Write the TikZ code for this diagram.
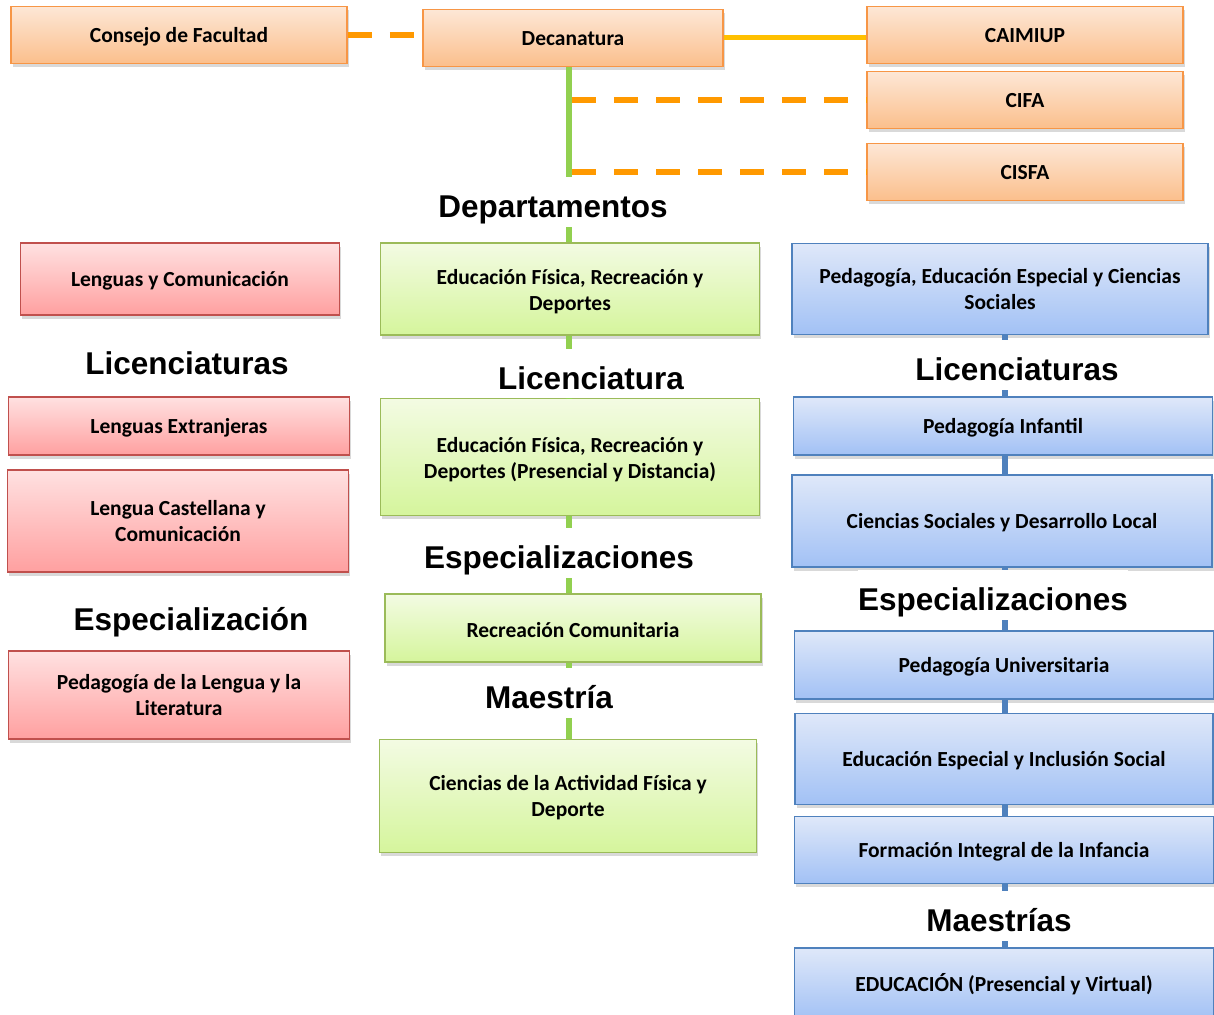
\documentclass[tikz,border=0pt]{standalone}
\usepackage{fontspec}
\newfontfamily\calib{Carlito}
\newfontfamily\arialf{Liberation Sans}
\usetikzlibrary{shadows}

\definecolor{orgTop}{HTML}{FDE7D6}
\definecolor{orgBot}{HTML}{FBBF8C}
\definecolor{orgEdge}{HTML}{F79646}
\definecolor{redTop}{HTML}{FFE1E1}
\definecolor{redBot}{HTML}{FFA0A0}
\definecolor{redEdge}{HTML}{C0504D}
\definecolor{grnTop}{HTML}{F3FBE3}
\definecolor{grnBot}{HTML}{D5F59C}
\definecolor{grnEdge}{HTML}{9BBB59}
\definecolor{bluTop}{HTML}{DFE8F9}
\definecolor{bluBot}{HTML}{A2C1F5}
\definecolor{bluEdge}{HTML}{4F81BD}
\definecolor{lnGrn}{HTML}{92D050}
\definecolor{lnBlu}{HTML}{4F81BD}
\definecolor{lnOrg}{HTML}{FF9900}
\definecolor{lnYel}{HTML}{FFC000}
\newcommand{\hiln}{\rule{0pt}{21pt}}
\newcommand{\loln}{\rule[-4pt]{0pt}{4pt}}

\begin{document}
\begin{tikzpicture}[
    x=1pt, y=-1pt,
    blk/.style = {draw, line width=1.5pt, inner sep=0pt, align=center,
      font=\calib\bfseries\fontsize{21.5}{26}\selectfont,
      execute at begin node={\rule{0pt}{18.5pt}},
      drop shadow={shadow xshift=1.5pt, shadow yshift=-3.5pt, opacity=.3}},
    orgblk/.style = {blk, draw=orgEdge, top color=orgTop, bottom color=orgBot},
    redblk/.style = {blk, draw=redEdge, top color=redTop, bottom color=redBot},
    grnblk/.style = {blk, draw=grnEdge, top color=grnTop, bottom color=grnBot},
    blublk/.style = {blk, draw=bluEdge, top color=bluTop, bottom color=bluBot},
    hdr/.style = {fill=white, anchor=base, inner sep=0pt, text height=40pt,
      text depth=10pt, minimum width=250pt,
      font=\arialf\bfseries\fontsize{31.5}{36}\selectfont},
    grnln/.style = {draw=lnGrn, line width=6pt},
    bluln/.style = {draw=lnBlu, line width=6pt},
    orgdash/.style = {draw=lnOrg, line width=6pt, dash pattern=on 24pt off 18pt},
    yelln/.style = {draw=lnYel, line width=5pt},
  ]
  \useasboundingbox (0,0) rectangle (1214,1014);
  \coordinate (gx) at (569,0);
  \coordinate (bx) at (1005,0);

  % top row
  \node[orgblk, minimum width=336pt, minimum height=57pt] (cons) at (179,35) {Consejo de Facultad};
  \node[orgblk, minimum width=300pt, minimum height=57pt] (dec) at (573,38) {Decanatura\loln};
  \node[orgblk, minimum width=316pt, minimum height=57pt] (caim) at (1025,35) {CAIMIUP\loln};
  \node[orgblk, minimum width=316pt, minimum height=57pt] (cifa) at (1025,100) {CIFA\loln};
  \node[orgblk, minimum width=316pt, minimum height=57pt] (cisfa) at (1025,172) {CISFA\loln};

  % left column
  \node[redblk, minimum width=319pt, minimum height=72pt] (r1) at (180,279) {Lenguas y Comunicación};
  \node[hdr] (hLicR) at (187,374) {Licenciaturas};
  \node[redblk, minimum width=341pt, minimum height=58pt] (r2) at (179,426) {Lenguas Extranjeras};
  \node[redblk, minimum width=341pt, minimum height=102pt] (r3) at (178,521) {Lengua Castellana y\\Comunicación};
  \node[hdr] (hEspR) at (191,630) {Especialización};
  \node[redblk, minimum width=341pt, minimum height=88pt] (r4) at (179,695) {Pedagogía de la Lengua y la\\Literatura};

  % middle column
  \node[hdr] (hDep) at (553,217) {Departamentos};
  \node[grnblk, minimum width=379pt, minimum height=92pt] (g1) at (570,289) {\hiln Educación Física, Recreación y\\Deportes};
  \node[hdr] (hLicG) at (591,389) {Licenciatura};
  \node[grnblk, minimum width=379pt, minimum height=117pt] (g2) at (570,457) {\hiln Educación Física, Recreación y\\Deportes (Presencial y Distancia)};
  \node[hdr] (hEspG) at (559,568) {Especializaciones};
  \node[grnblk, minimum width=376pt, minimum height=68pt] (g3) at (573,628) {Recreación Comunitaria};
  \node[hdr] (hMaeG) at (549,708) {Maestría};
  \node[grnblk, minimum width=377pt, minimum height=113pt] (g4) at (568,796) {\rule{0pt}{18pt}Ciencias de la Actividad Física y\\Deporte};

  % right column
  \node[blublk, minimum width=416pt, minimum height=91pt] (b1) at (1000,289) {Pedagogía, Educación Especial y Ciencias\\Sociales};
  \node[hdr] (hLicB) at (1017,380) {Licenciaturas};
  \node[blublk, minimum width=419pt, minimum height=58pt] (b2) at (1003,426) {Pedagogía Infantil};
  \node[blublk, minimum width=420pt, minimum height=92pt] (b3) at (1002,521) {Ciencias Sociales y Desarrollo Local};
  \node[hdr] (hEspB) at (993,610) {Especializaciones};
  \node[blublk, minimum width=419pt, minimum height=68pt] (b4) at (1004,665) {Pedagogía Universitaria};
  \node[blublk, minimum width=418pt, minimum height=91pt] (b5) at (1004,759) {Educación Especial y Inclusión Social};
  \node[blublk, minimum width=419pt, minimum height=67pt] (b6) at (1004,850) {Formación Integral de la Infancia};
  \node[hdr] (hMaeB) at (999,931) {Maestrías};
  \node[blublk, minimum width=419pt, minimum height=72pt] (b7) at (1004,984) {EDUCACIÓN (Presencial y Virtual)};

  % connectors
  \draw[orgdash] (cons.east) -- (cons.east -| dec.west);
  \draw[yelln] (dec.east) -- (dec.east -| caim.west);
  \foreach \a/\b in {dec/hDep, hDep/g1, g1/hLicG, hLicG/g2, g2/hEspG, hEspG/g3, g3/hMaeG, hMaeG/g4}
    \draw[grnln] (\a.south -| gx) -- (\b.north -| gx);
  \draw[orgdash] ([xshift=3pt]gx |- cifa.west) -- (cifa.west);
  \draw[orgdash] ([xshift=3pt]gx |- cisfa.west) -- (cisfa.west);
  \foreach \a/\b in {b1/hLicB, hLicB/b2, b2/b3, b3/hEspB, hEspB/b4, b4/b5, b5/b6, b6/hMaeB, hMaeB/b7}
    \draw[bluln] (\a.south -| bx) -- (\b.north -| bx);
\end{tikzpicture}
\end{document}
